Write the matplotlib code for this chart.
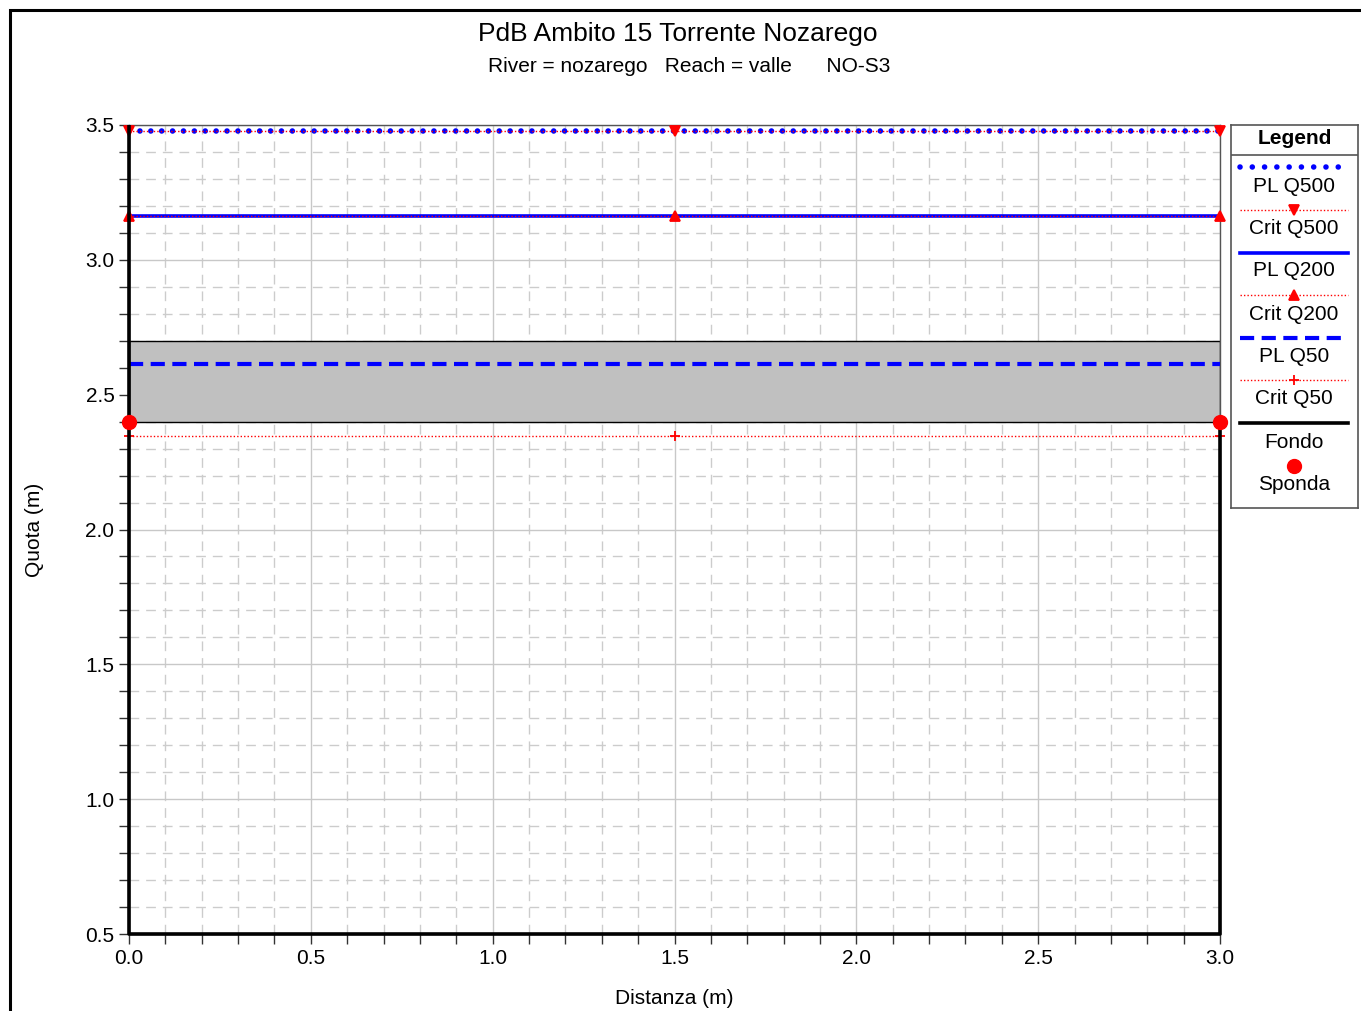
import numpy as np
import matplotlib
matplotlib.use("Agg")
import matplotlib.pyplot as plt
from matplotlib.patches import Rectangle
from matplotlib.ticker import MultipleLocator, FormatStrFormatter

plt.rcParams['font.family'] = ['Liberation Sans', 'DejaVu Sans']

# ---- data ----
stations = [0.0, 1.5, 3.0]
pl_q500 = [3.478, 3.478, 3.478]
crit_q500 = [3.478, 3.478, 3.478]
pl_q200 = [3.163, 3.163, 3.163]
crit_q200 = [3.163, 3.163, 3.163]
pl_q50 = [2.613, 2.613, 2.613]
crit_q50 = [2.347, 2.347, 2.347]

ground_x = [0.0, 0.0, 3.0, 3.0]
ground_y = [3.5, 0.5, 0.5, 2.40]
bank_x = [0.0, 3.0]
bank_y = [2.40, 2.40]
deck_x = [0.0, 3.0]
deck_low = [2.40, 2.40]
deck_high = [2.70, 2.70]

W, H = 1361, 1011
fig = plt.figure(figsize=(W / 100, H / 100), dpi=100)
fig.patch.set_facecolor('white')

# outer frame
fig.add_artist(Rectangle((10 / W, -0.1), 1.2, 1 - 10 / H + 0.1, transform=fig.transFigure,
                         fill=False, edgecolor='black', lw=2.2))

ax = fig.add_axes([129 / W, 1 - 934 / H, (1220 - 129) / W, (934 - 125) / H])
ax.set_xlim(0, 3)
ax.set_ylim(0.5, 3.5)

# grid
ax.xaxis.set_major_locator(MultipleLocator(0.5))
ax.yaxis.set_major_locator(MultipleLocator(0.5))
ax.xaxis.set_minor_locator(MultipleLocator(0.1))
ax.yaxis.set_minor_locator(MultipleLocator(0.1))
ax.grid(True, which='major', color='#c8c8c8', lw=1, ls='-')
ax.grid(True, which='minor', color='#cccccc', lw=1, ls=(0, (7, 5)))
ax.set_axisbelow(True)

for s in ax.spines.values():
    s.set_color('#555555')
    s.set_linewidth(1.0)

# deck
ax.fill_between(deck_x, deck_low, deck_high, facecolor='#c0c0c0', edgecolor='black', lw=1, zorder=2)

# water surfaces
dot = dict(lw=4.0, ls=(0, (0.01, 1.95)), dash_capstyle='round')
crit = dict(color='red', lw=1, ls=(0, (1, 1.5)), ms=7, mew=1.3)
ax.plot(stations, pl_q500, color='#0000ff', zorder=4, **dot)
ax.plot(stations, crit_q500, marker='v', zorder=5, clip_on=False, **crit)
ax.plot(stations, pl_q200, color='#0000ff', lw=2.6, zorder=4)
ax.plot(stations, crit_q200, marker='^', zorder=5, clip_on=False, **crit)
ax.plot(stations, pl_q50, color='#0000ff', lw=3, ls=(0, (3.4, 1.8)), zorder=4)
ax.plot(stations, crit_q50, marker='+', zorder=5, clip_on=False, **crit)

# ground and banks
ax.plot(ground_x, ground_y, color='black', lw=2.6, zorder=6, clip_on=False, solid_capstyle='butt')
ax.plot(bank_x, bank_y, ls='none', marker='o', color='red', ms=10, zorder=7, clip_on=False)

ax.tick_params(which='both', direction='out', length=7, width=1, labelsize=15, color='#333333')
ax.tick_params(axis='x', pad=4)
ax.xaxis.set_major_formatter(FormatStrFormatter('%.1f'))
ax.yaxis.set_major_formatter(FormatStrFormatter('%.1f'))

fig.text(34 / W, 1 - 530 / H, 'Quota (m)', rotation=90, ha='center', va='center', fontsize=15)
fig.text(674 / W, 1 - 999 / H, 'Distanza (m)', ha='center', va='center', fontsize=15)
fig.text(678 / W, 1 - 34 / H, 'PdB Ambito 15 Torrente Nozarego', ha='center', va='center', fontsize=19)
fig.text(689 / W, 1 - 66 / H, 'River = nozarego   Reach = valle      NO-S3', ha='center', va='center', fontsize=15)

# ---- legend box ----
lx0, ly0, lx1, ly1 = 1231, 125, 1358, 508
lax = fig.add_axes([lx0 / W, 1 - ly1 / H, (lx1 - lx0) / W, (ly1 - ly0) / H])
lax.set_xlim(lx0, lx1)
lax.set_ylim(ly1, ly0)
lax.set_xticks([])
lax.set_yticks([])
for s in lax.spines.values():
    s.set_color('#555555')
    s.set_linewidth(1.2)
lax.plot([lx0, lx1], [155, 155], color='#555555', lw=1.2)
lax.text((lx0 + lx1) / 2, 139, 'Legend', ha='center', va='center', fontsize=15, fontweight='bold')

sx = [1240, 1348]
mid = [1294]
items = [
    (167, 186, 'PL Q500', dict(color='#0000ff', lw=4.0, ls=(0, (0.01, 2.2)), dash_capstyle='round'), None),
    (210, 229, 'Crit Q500', dict(color='red', lw=1, ls=(0, (1, 1.5))), 'v'),
    (253, 271, 'PL Q200', dict(color='#0000ff', lw=2.6), None),
    (295, 314, 'Crit Q200', dict(color='red', lw=1, ls=(0, (1, 1.5))), '^'),
    (338, 357, 'PL Q50', dict(color='#0000ff', lw=3, ls=(0, (3.4, 1.8))), None),
    (380, 399, 'Crit Q50', dict(color='red', lw=1, ls=(0, (1, 1.5))), '+'),
    (423, 442, 'Fondo', dict(color='black', lw=2.6), None),
]
for ly, ty, label, style, mk in items:
    lax.plot(sx, [ly, ly], **style)
    if mk:
        lax.plot(mid, [ly], ls='none', marker=mk, color='red', ms=7, mew=1.3)
    lax.text(mid[0], ty, label, ha='center', va='center', fontsize=15)
lax.plot(mid, [466], ls='none', marker='o', color='red', ms=10)
lax.text(mid[0], 485, 'Sponda', ha='center', va='center', fontsize=15)

fig.savefig('out.png', dpi=100)
